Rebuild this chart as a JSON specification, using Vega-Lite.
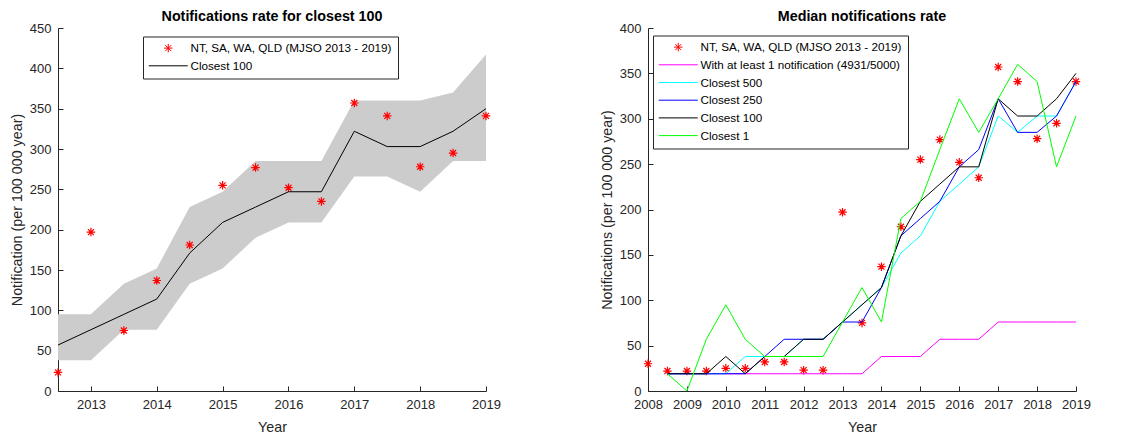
{
  "$schema": "https://vega.github.io/schema/vega-lite/v6.json",
  "padding": {"left": 10, "top": 9, "right": 5, "bottom": 0},
  "spacing": 162,
  "bounds": "flush",
  "config": {
    "font": "Liberation Sans",
    "view": {"stroke": null},
    "axis": {
      "grid": false,
      "domainColor": "#262626",
      "tickColor": "#262626",
      "labelColor": "#262626",
      "titleColor": "#262626",
      "labelFontSize": 13,
      "titleFontSize": 14.3,
      "titleFontWeight": "normal",
      "labelFont": "Liberation Sans",
      "titleFont": "Liberation Sans",
      "tickSize": -5,
      "labelFlush": false,
      "labelOverlap": false
    },
    "axisX": {"labelPadding": 12, "titlePadding": 9, "labelOverlap": false, "labelSeparation": -20},
    "axisY": {"labelPadding": 12, "titlePadding": 5},
    "title": {"fontSize": 14.3, "fontWeight": "bold", "color": "#000000", "font": "Liberation Sans", "offset": 0, "dy": 6},
    "legend": {
      "orient": "none",
      "title": null,
      "fillColor": "white",
      "strokeColor": "#262626",
      "padding": 5.75,
      "labelFontSize": 11.7,
      "labelFont": "Liberation Sans",
      "labelColor": "#000000",
      "symbolSize": 100,
      "symbolStrokeWidth": 1,
      "symbolFillColor": "transparent",
      "labelOffset": 30,
      "rowPadding": 4.7,
      "labelLimit": 400
    }
  },
  "datasets": {
    "band": [
      {"year": 2012.5, "lo": 38, "hi": 95},
      {"year": 2013, "lo": 38, "hi": 95},
      {"year": 2013.5, "lo": 76, "hi": 133},
      {"year": 2014, "lo": 76, "hi": 152},
      {"year": 2014.5, "lo": 133, "hi": 228},
      {"year": 2015, "lo": 152, "hi": 247},
      {"year": 2015.5, "lo": 190, "hi": 285},
      {"year": 2016, "lo": 209, "hi": 285},
      {"year": 2016.5, "lo": 209, "hi": 285},
      {"year": 2017, "lo": 266, "hi": 360},
      {"year": 2017.5, "lo": 266, "hi": 360},
      {"year": 2018, "lo": 247, "hi": 360},
      {"year": 2018.5, "lo": 285, "hi": 370},
      {"year": 2019, "lo": 285, "hi": 417}
    ],
    "left_line": [
      {"year": 2012.5, "series": "Closest 100", "value": 57},
      {"year": 2013, "series": "Closest 100", "value": 76},
      {"year": 2013.5, "series": "Closest 100", "value": 95},
      {"year": 2014, "series": "Closest 100", "value": 114},
      {"year": 2014.5, "series": "Closest 100", "value": 171},
      {"year": 2015, "series": "Closest 100", "value": 209},
      {"year": 2015.5, "series": "Closest 100", "value": 228},
      {"year": 2016, "series": "Closest 100", "value": 247},
      {"year": 2016.5, "series": "Closest 100", "value": 247},
      {"year": 2017, "series": "Closest 100", "value": 322},
      {"year": 2017.5, "series": "Closest 100", "value": 303},
      {"year": 2018, "series": "Closest 100", "value": 303},
      {"year": 2018.5, "series": "Closest 100", "value": 322},
      {"year": 2019, "series": "Closest 100", "value": 350}
    ],
    "stars": [
      {"year": 2008, "series": "NT, SA, WA, QLD (MJSO 2013 - 2019)", "value": 30},
      {"year": 2008.5, "series": "NT, SA, WA, QLD (MJSO 2013 - 2019)", "value": 22},
      {"year": 2009, "series": "NT, SA, WA, QLD (MJSO 2013 - 2019)", "value": 22},
      {"year": 2009.5, "series": "NT, SA, WA, QLD (MJSO 2013 - 2019)", "value": 22},
      {"year": 2010, "series": "NT, SA, WA, QLD (MJSO 2013 - 2019)", "value": 25},
      {"year": 2010.5, "series": "NT, SA, WA, QLD (MJSO 2013 - 2019)", "value": 25},
      {"year": 2011, "series": "NT, SA, WA, QLD (MJSO 2013 - 2019)", "value": 32},
      {"year": 2011.5, "series": "NT, SA, WA, QLD (MJSO 2013 - 2019)", "value": 32},
      {"year": 2012, "series": "NT, SA, WA, QLD (MJSO 2013 - 2019)", "value": 23},
      {"year": 2012.5, "series": "NT, SA, WA, QLD (MJSO 2013 - 2019)", "value": 23},
      {"year": 2013, "series": "NT, SA, WA, QLD (MJSO 2013 - 2019)", "value": 197},
      {"year": 2013.5, "series": "NT, SA, WA, QLD (MJSO 2013 - 2019)", "value": 75},
      {"year": 2014, "series": "NT, SA, WA, QLD (MJSO 2013 - 2019)", "value": 137},
      {"year": 2014.5, "series": "NT, SA, WA, QLD (MJSO 2013 - 2019)", "value": 181},
      {"year": 2015, "series": "NT, SA, WA, QLD (MJSO 2013 - 2019)", "value": 255},
      {"year": 2015.5, "series": "NT, SA, WA, QLD (MJSO 2013 - 2019)", "value": 277},
      {"year": 2016, "series": "NT, SA, WA, QLD (MJSO 2013 - 2019)", "value": 252},
      {"year": 2016.5, "series": "NT, SA, WA, QLD (MJSO 2013 - 2019)", "value": 235},
      {"year": 2017, "series": "NT, SA, WA, QLD (MJSO 2013 - 2019)", "value": 357},
      {"year": 2017.5, "series": "NT, SA, WA, QLD (MJSO 2013 - 2019)", "value": 341},
      {"year": 2018, "series": "NT, SA, WA, QLD (MJSO 2013 - 2019)", "value": 278},
      {"year": 2018.5, "series": "NT, SA, WA, QLD (MJSO 2013 - 2019)", "value": 295},
      {"year": 2019, "series": "NT, SA, WA, QLD (MJSO 2013 - 2019)", "value": 341}
    ],
    "right_lines": [
      {"year": 2008.5, "With at least 1 notification (4931/5000)": 19, "Closest 500": 19, "Closest 250": 19, "Closest 100": 19, "Closest 1": 19},
      {"year": 2009, "With at least 1 notification (4931/5000)": 19, "Closest 500": 19, "Closest 250": 19, "Closest 100": 19, "Closest 1": 0},
      {"year": 2009.5, "With at least 1 notification (4931/5000)": 19, "Closest 500": 19, "Closest 250": 19, "Closest 100": 19, "Closest 1": 57},
      {"year": 2010, "With at least 1 notification (4931/5000)": 19, "Closest 500": 19, "Closest 250": 19, "Closest 100": 38, "Closest 1": 95},
      {"year": 2010.5, "With at least 1 notification (4931/5000)": 19, "Closest 500": 38, "Closest 250": 19, "Closest 100": 19, "Closest 1": 57},
      {"year": 2011, "With at least 1 notification (4931/5000)": 19, "Closest 500": 38, "Closest 250": 38, "Closest 100": 38, "Closest 1": 38},
      {"year": 2011.5, "With at least 1 notification (4931/5000)": 19, "Closest 500": 38, "Closest 250": 57, "Closest 100": 38, "Closest 1": 38},
      {"year": 2012, "With at least 1 notification (4931/5000)": 19, "Closest 500": 57, "Closest 250": 57, "Closest 100": 57, "Closest 1": 38},
      {"year": 2012.5, "With at least 1 notification (4931/5000)": 19, "Closest 500": 57, "Closest 250": 57, "Closest 100": 57, "Closest 1": 38},
      {"year": 2013, "With at least 1 notification (4931/5000)": 19, "Closest 500": 76, "Closest 250": 76, "Closest 100": 76, "Closest 1": 76},
      {"year": 2013.5, "With at least 1 notification (4931/5000)": 19, "Closest 500": 95, "Closest 250": 76, "Closest 100": 95, "Closest 1": 114},
      {"year": 2014, "With at least 1 notification (4931/5000)": 38, "Closest 500": 114, "Closest 250": 114, "Closest 100": 114, "Closest 1": 76},
      {"year": 2014.5, "With at least 1 notification (4931/5000)": 38, "Closest 500": 152, "Closest 250": 171, "Closest 100": 171, "Closest 1": 190},
      {"year": 2015, "With at least 1 notification (4931/5000)": 38, "Closest 500": 171, "Closest 250": 190, "Closest 100": 209, "Closest 1": 209},
      {"year": 2015.5, "With at least 1 notification (4931/5000)": 57, "Closest 500": 209, "Closest 250": 209, "Closest 100": 228, "Closest 1": 266},
      {"year": 2016, "With at least 1 notification (4931/5000)": 57, "Closest 500": 228, "Closest 250": 247, "Closest 100": 247, "Closest 1": 322},
      {"year": 2016.5, "With at least 1 notification (4931/5000)": 57, "Closest 500": 247, "Closest 250": 266, "Closest 100": 247, "Closest 1": 285},
      {"year": 2017, "With at least 1 notification (4931/5000)": 76, "Closest 500": 303, "Closest 250": 322, "Closest 100": 322, "Closest 1": 322},
      {"year": 2017.5, "With at least 1 notification (4931/5000)": 76, "Closest 500": 285, "Closest 250": 285, "Closest 100": 303, "Closest 1": 360},
      {"year": 2018, "With at least 1 notification (4931/5000)": 76, "Closest 500": 303, "Closest 250": 285, "Closest 100": 303, "Closest 1": 341},
      {"year": 2018.5, "With at least 1 notification (4931/5000)": 76, "Closest 500": 303, "Closest 250": 303, "Closest 100": 322, "Closest 1": 247},
      {"year": 2019, "With at least 1 notification (4931/5000)": 76, "Closest 500": 341, "Closest 250": 341, "Closest 100": 350, "Closest 1": 303}
    ]
  },
  "hconcat": [
    {
      "width": 428,
      "height": 363,
      "title": {"text": "Notifications rate for closest 100"},
      "layer": [
        {
          "data": {"name": "band"},
          "mark": {"type": "area", "color": "#cccccc", "opacity": 1},
          "encoding": {
            "x": {"field": "year", "type": "quantitative", "scale": {"domain": [2012.5, 2019], "nice": false}, "axis": {"values": [2013, 2014, 2015, 2016, 2017, 2018, 2019], "format": "d", "title": "Year", "labelOverlap": false}},
            "y": {"field": "lo", "type": "quantitative", "scale": {"domain": [0, 450], "nice": false}, "axis": {"values": [0, 50, 100, 150, 200, 250, 300, 350, 400, 450], "title": "Notification (per 100 000 year)", "labelOverlap": false}},
            "y2": {"field": "hi"}
          }
        },
        {
          "data": {"name": "stars"},
          "transform": [{"filter": "datum.year >= 2012.5"}],
          "mark": {"type": "point", "filled": false, "size": 100, "strokeWidth": 1.2, "opacity": 1},
          "encoding": {
            "x": {"field": "year", "type": "quantitative"},
            "y": {"field": "value", "type": "quantitative"},
            "color": {"field": "series", "type": "nominal", "scale": {"domain": ["NT, SA, WA, QLD (MJSO 2013 - 2019)", "Closest 100"], "range": ["#ff0000", "#000000"]}, "legend": {"legendX": 85, "legendY": 8.5, "encode": {"symbols": {"update": {"x": {"value": 19.5}}}}}},
            "shape": {"field": "series", "type": "nominal", "scale": {"domain": ["NT, SA, WA, QLD (MJSO 2013 - 2019)", "Closest 100"], "range": ["M-0.85,0L0.85,0M0,-0.85L0,0.85M-0.6,-0.6L0.6,0.6M-0.6,0.6L0.6,-0.6", "M-3.9,0L3.9,0"]}, "legend": {"legendX": 85, "legendY": 8.5, "encode": {"symbols": {"update": {"x": {"value": 19.5}}}}}}
          }
        },
        {
          "data": {"name": "left_line"},
          "mark": {"type": "line", "strokeWidth": 1},
          "encoding": {
            "x": {"field": "year", "type": "quantitative"},
            "y": {"field": "value", "type": "quantitative"},
            "color": {"field": "series", "type": "nominal", "scale": {"domain": ["NT, SA, WA, QLD (MJSO 2013 - 2019)", "Closest 100"], "range": ["#ff0000", "#000000"]}, "legend": {"legendX": 85, "legendY": 8.5, "encode": {"symbols": {"update": {"x": {"value": 19.5}}}}}}
          }
        }
      ]
    },
    {
      "width": 428,
      "height": 363,
      "title": {"text": "Median notifications rate"},
      "layer": [
        {
          "data": {"name": "stars"},
          "mark": {"type": "point", "filled": false, "size": 100, "strokeWidth": 1.2, "opacity": 1},
          "encoding": {
            "x": {"field": "year", "type": "quantitative", "scale": {"domain": [2008, 2019], "nice": false}, "axis": {"values": [2008, 2009, 2010, 2011, 2012, 2013, 2014, 2015, 2016, 2017, 2018, 2019], "format": "d", "title": "Year", "labelOverlap": false, "labelSeparation": -20}},
            "y": {"field": "value", "type": "quantitative", "scale": {"domain": [0, 400], "nice": false}, "axis": {"values": [0, 50, 100, 150, 200, 250, 300, 350, 400], "title": "Notifications (per 100 000 year)", "labelOverlap": false}},
            "color": {"field": "series", "type": "nominal", "scale": {"domain": ["NT, SA, WA, QLD (MJSO 2013 - 2019)", "With at least 1 notification (4931/5000)", "Closest 500", "Closest 250", "Closest 100", "Closest 1"], "range": ["#ff0000", "#ff00ff", "#00ffff", "#0000ff", "#000000", "#00ff00"]}, "legend": {"legendX": 5, "legendY": 7.5, "encode": {"symbols": {"update": {"x": {"value": 19.5}}}}}},
            "shape": {"field": "series", "type": "nominal", "scale": {"domain": ["NT, SA, WA, QLD (MJSO 2013 - 2019)", "With at least 1 notification (4931/5000)", "Closest 500", "Closest 250", "Closest 100", "Closest 1"], "range": ["M-0.85,0L0.85,0M0,-0.85L0,0.85M-0.6,-0.6L0.6,0.6M-0.6,0.6L0.6,-0.6", "M-3.9,0L3.9,0", "M-3.9,0L3.9,0", "M-3.9,0L3.9,0", "M-3.9,0L3.9,0", "M-3.9,0L3.9,0"]}, "legend": {"legendX": 5, "legendY": 7.5, "encode": {"symbols": {"update": {"x": {"value": 19.5}}}}}}
          }
        },
        {
          "data": {"name": "right_lines"},
          "transform": [{"fold": ["With at least 1 notification (4931/5000)", "Closest 500", "Closest 250", "Closest 100", "Closest 1"], "as": ["series", "value"]}],
          "mark": {"type": "line", "strokeWidth": 1},
          "encoding": {
            "x": {"field": "year", "type": "quantitative", "axis": {"values": [2008, 2009, 2010, 2011, 2012, 2013, 2014, 2015, 2016, 2017, 2018, 2019], "format": "d", "title": "Year", "labelOverlap": false, "labelSeparation": -20}},
            "y": {"field": "value", "type": "quantitative"},
            "color": {"field": "series", "type": "nominal", "scale": {"domain": ["NT, SA, WA, QLD (MJSO 2013 - 2019)", "With at least 1 notification (4931/5000)", "Closest 500", "Closest 250", "Closest 100", "Closest 1"], "range": ["#ff0000", "#ff00ff", "#00ffff", "#0000ff", "#000000", "#00ff00"]}, "legend": {"legendX": 5, "legendY": 7.5, "encode": {"symbols": {"update": {"x": {"value": 19.5}}}}}}
          }
        }
      ]
    }
  ],
  "resolve": {"scale": {"color": "independent", "shape": "independent"}, "legend": {"color": "independent", "shape": "independent"}}
}
